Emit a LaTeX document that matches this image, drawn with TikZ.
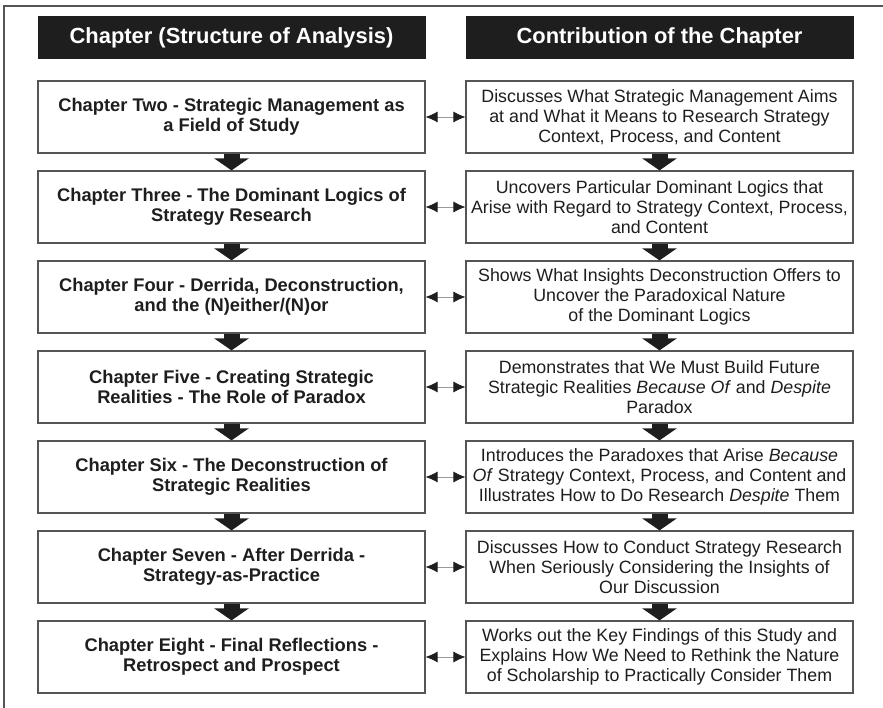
\documentclass[tikz,border=0pt]{standalone}
\usepackage{fontspec}
\setmainfont{Liberation Sans}
\usetikzlibrary{arrows.meta,calc}
\definecolor{boxgray}{HTML}{555555}
\definecolor{linkgray}{HTML}{999999}
\definecolor{inkdark}{HTML}{1E1E1E}

\tikzset{
  headbox/.style={fill=inkdark, text=white, font=\fontsize{21.9}{24}\selectfont\bfseries,
    minimum width=388pt, minimum height=43pt, inner sep=0pt},
  chapbox/.style={draw=boxgray, line width=1.2pt, fill=white, text=inkdark, align=center,
    minimum width=387pt, minimum height=72pt, inner sep=0pt,
    font=\fontsize{18.3}{19.5}\selectfont\bfseries},
  contbox/.style={chapbox, font=\fontsize{17.8}{19.7}\selectfont},
  flow/.style={inkdark, line width=16pt, -{Triangle[length=12pt,width=34pt]}},
  link/.style={linkgray, line width=0.8pt,
    {Latex[length=12pt,width=11pt,color=inkdark]}-{Latex[length=12pt,width=11pt,color=inkdark]}}
}

\begin{document}
\begin{tikzpicture}[x=1pt,y=-1pt]
\useasboundingbox (0,0) rectangle (883,708);
% Frame
\draw[boxgray, line width=1.3pt] (883,6) -- (4,6) -- (4,708);

% Column headers
\node[headbox] (hl) at (231.5,37.5) {Chapter (Structure of Analysis)};
\node[headbox] (hr) at (659.5,37.5) {Contribution of the Chapter};

% Chapters
\node[chapbox] (l1) at (231.5,117) {Chapter Two - Strategic Management as\\a Field of Study};
\node[chapbox] (l2) at (231.5,207) {Chapter Three - The Dominant Logics of\\Strategy Research};
\node[chapbox] (l3) at (231.5,297) {Chapter Four - Derrida, Deconstruction,\\and the (N)either/(N)or};
\node[chapbox] (l4) at (231.5,387) {Chapter Five - Creating Strategic\\Realities - The Role of Paradox};
\node[chapbox] (l5) at (231.5,477) {Chapter Six - The Deconstruction of\\Strategic Realities};
\node[chapbox] (l6) at (231.5,567) {Chapter Seven - After Derrida -\\Strategy-as-Practice};
\node[chapbox] (l7) at (231.5,657) {Chapter Eight - Final Reflections -\\Retrospect and Prospect};

% Contributions
\node[contbox] (r1) at (659.5,117) {Discusses What Strategic Management Aims\\at and What it Means to Research Strategy\\Context, Process, and Content};
\node[contbox] (r2) at (659.5,207) {Uncovers Particular Dominant Logics that\\Arise with Regard to Strategy Context, Process,\\and Content};
\node[contbox] (r3) at (659.5,297) {Shows What Insights Deconstruction Offers to\\Uncover the Paradoxical Nature\\of the Dominant Logics};
\node[contbox] (r4) at (659.5,387) {Demonstrates that We Must Build Future\\Strategic Realities \textit{Because Of} and \textit{Despite}\\Paradox};
\node[contbox] (r5) at (659.5,477) {Introduces the Paradoxes that Arise \textit{Because}\\\textit{Of} Strategy Context, Process, and Content and\\Illustrates How to Do Research \textit{Despite} Them};
\node[contbox] (r6) at (659.5,567) {Discusses How to Conduct Strategy Research\\When Seriously Considering the Insights of\\Our Discussion};
\node[contbox] (r7) at (659.5,657) {Works out the Key Findings of this Study and\\Explains How We Need to Rethink the Nature\\of Scholarship to Practically Consider Them};

% Block arrows down both columns
\foreach \i in {1,...,6}{
  \pgfmathtruncatemacro{\nxt}{\i+1}
  \draw[flow] (l\i.south) -- (l\nxt.north);
  \draw[flow] (r\i.south) -- (r\nxt.north);
}

% Links between chapter and contribution
\foreach \i in {1,...,7}{
  \draw[link] (l\i.east) -- (r\i.west);
}
\end{tikzpicture}
\end{document}
